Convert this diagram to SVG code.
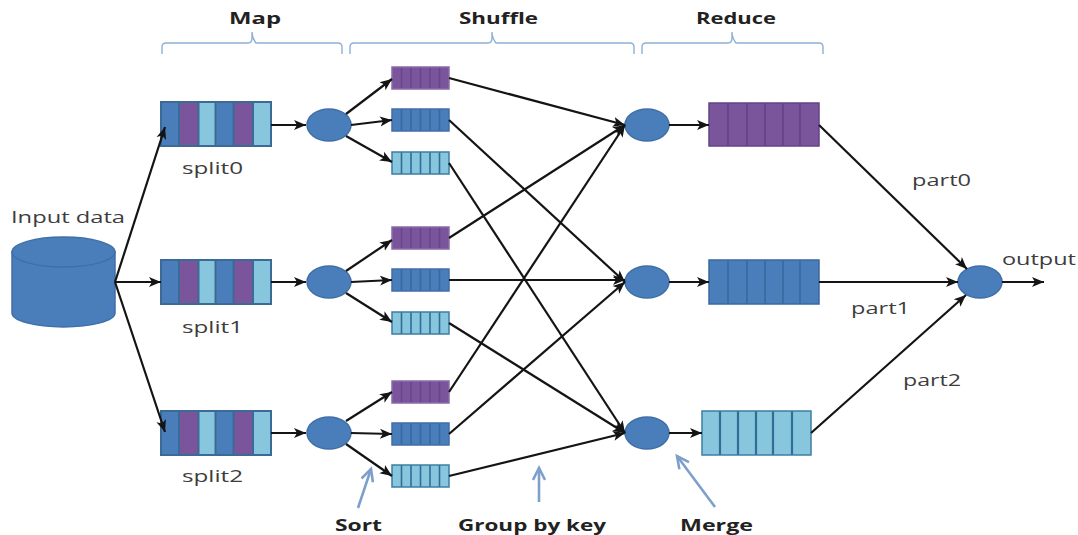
<svg xmlns="http://www.w3.org/2000/svg" width="1078" height="535" viewBox="0 0 1078 535">
<style>
text{font-family:"Open Sans","Liberation Sans",sans-serif;fill:#3d3d3d;font-size:16px}
.h{font-weight:700;fill:#222;font-size:16.5px}
.n{fill:#4a7ebb;stroke:#3f6fa8;stroke-width:1.5}
.br{fill:none;stroke:#8fb0d6;stroke-width:1.4}
.c{fill:none;stroke:#141414;stroke-width:2.2;marker-end:url(#a)}
.s{fill:none;stroke:#7f9fcb;stroke-width:2.6;marker-end:url(#b)}
.dv{stroke-width:1.6;fill:none}
.bl{fill:#4a7ebb}.pu{fill:#7b559c}.li{fill:#88c6de}
.o{fill:none;stroke:#3c6a96;stroke-width:2}
</style>
<defs>
<marker id="a" markerUnits="userSpaceOnUse" markerWidth="14" markerHeight="12" refX="12" refY="6" orient="auto"><path d="M0 1 L12 6 L0 11 L3 6Z" fill="#141414"/></marker>
<marker id="b" markerUnits="userSpaceOnUse" markerWidth="16" markerHeight="14" refX="13" refY="7" orient="auto"><path d="M1 1 L13 7 L1 13" fill="none" stroke="#7f9fcb" stroke-width="2.6"/></marker>
<g id="sm-p"><rect width="57" height="22" class="pu"/><path d="M9.5 0V22M19 0V22M28.500 0V22M38 0V22M47.500 0V22" class="dv" stroke="#66478c"/><rect width="57" height="22" fill="none" stroke="#8a6aa8" stroke-width="1.500"/></g>
<g id="sm-b"><rect width="57" height="22" class="bl"/><path d="M9.5 0V22M19 0V22M28.500 0V22M38 0V22M47.500 0V22" class="dv" stroke="#38689f"/><rect width="57" height="22" fill="none" stroke="#3f6fa8" stroke-width="1.500"/></g>
<g id="sm-l"><rect width="57" height="22" class="li"/><path d="M9.5 0V22M19 0V22M28.500 0V22M38 0V22M47.500 0V22" class="dv" stroke="#2f6f96"/><rect width="57" height="22" fill="none" stroke="#3c7da3" stroke-width="1.500"/></g>
<g id="split"><rect x="0" width="18" height="44" class="bl"/><rect x="18" width="19.500" height="44" class="pu"/><rect x="37.500" width="17" height="44" class="li"/><rect x="54.500" width="18" height="44" class="bl"/><rect x="72.500" width="19.500" height="44" class="pu"/><rect x="92" width="18" height="44" class="li"/><path d="M18 0V44M37.500 0V44M54.500 0V44M72.500 0V44M92 0V44" class="o"/><rect width="110" height="44" class="o"/></g>
</defs>

<g id="brackets">
<path class="br" d="M162 54V47Q162 43 166 43H248Q252 43 252 38V32Q252 38 256 43H338Q342 43 342 47V54"/>
<path class="br" d="M350 54V47Q350 43 354 43H488Q492 43 492 38V32Q492 38 496 43H630Q634 43 634 47V54"/>
<path class="br" d="M642 54V47Q642 43 646 43H728Q732 43 732 38V32Q732 38 736 43H819Q823 43 823 47V54"/>
</g>

<g id="input-data">
<path class="n" d="M12 252V313A51.500 14 0 0 0 115 313V252Z"/>
<ellipse class="n" cx="63.500" cy="252" rx="51.500" ry="15"/>
<text x="11" y="223" textLength="114" lengthAdjust="spacingAndGlyphs">Input data</text>
</g>

<g id="split0"><use href="#split" x="161" y="102"/><text x="182" y="174" textLength="61" lengthAdjust="spacingAndGlyphs">split0</text></g>
<g id="split1"><use href="#split" x="161" y="260"/><text x="182" y="333" textLength="61" lengthAdjust="spacingAndGlyphs">split1</text></g>
<g id="split2"><use href="#split" x="161" y="411"/><text x="182" y="482" textLength="61" lengthAdjust="spacingAndGlyphs">split2</text></g>

<g id="map0"><ellipse class="n" cx="329" cy="125" rx="22" ry="16"/></g>
<g id="map1"><ellipse class="n" cx="329" cy="282" rx="22" ry="16"/></g>
<g id="map2"><ellipse class="n" cx="329" cy="433" rx="22" ry="16"/></g>

<g id="q00"><use href="#sm-p" x="392" y="67"/></g>
<g id="q01"><use href="#sm-b" x="392" y="109"/></g>
<g id="q02"><use href="#sm-l" x="392" y="152"/></g>
<g id="q10"><use href="#sm-p" x="392" y="227"/></g>
<g id="q11"><use href="#sm-b" x="392" y="269"/></g>
<g id="q12"><use href="#sm-l" x="392" y="312"/></g>
<g id="q20"><use href="#sm-p" x="392" y="381"/></g>
<g id="q21"><use href="#sm-b" x="392" y="423"/></g>
<g id="q22"><use href="#sm-l" x="392" y="465"/></g>

<g id="merge0"><ellipse class="n" cx="647" cy="125" rx="22" ry="16"/></g>
<g id="merge1"><ellipse class="n" cx="647" cy="282" rx="22" ry="16"/></g>
<g id="merge2"><ellipse class="n" cx="647" cy="433" rx="22" ry="16"/></g>

<g id="reduce0"><rect x="709" y="103" width="110" height="43" class="pu"/><path d="M728 103V146M747 103V146M765 103V146M783 103V146M800 103V146" class="dv" stroke="#634387"/><rect x="709" y="103" width="110" height="43" fill="none" stroke="#634387" stroke-width="1.500"/></g>
<g id="reduce1"><rect x="709" y="260" width="110" height="44" class="bl"/><path d="M728 260V304M747 260V304M765 260V304M783 260V304M800 260V304" class="dv" stroke="#38689f"/><rect x="709" y="260" width="110" height="44" fill="none" stroke="#38689f" stroke-width="1.500"/></g>
<g id="reduce2"><rect x="702" y="411" width="109" height="44" class="li"/><path d="M720 411V455M738 411V455M756 411V455M773 411V455M792 411V455" class="dv" stroke="#2f6f96" style="stroke-width:2.2"/><rect x="702" y="411" width="109" height="44" fill="none" stroke="#3c7da3" stroke-width="1.500"/></g>

<g id="output"><ellipse class="n" cx="980" cy="282" rx="22" ry="16"/></g>

<g id="connectors">
<path class="c" d="M115 282L165 127"/><path class="c" d="M115 282H161"/><path class="c" d="M115 282L165 432"/>
<path class="c" d="M271 125H306"/><path class="c" d="M271 282H306"/><path class="c" d="M271 433H306"/>
<path class="c" d="M346 114L392 79"/><path class="c" d="M351 125L392 120"/><path class="c" d="M346 136L392 162"/>
<path class="c" d="M346 271L392 240"/><path class="c" d="M351 282L392 280"/><path class="c" d="M346 293L392 322"/>
<path class="c" d="M346 421L392 392"/><path class="c" d="M351 433L392 434"/><path class="c" d="M346 444L392 476"/>
<path class="c" d="M449 78L625 125"/><path class="c" d="M449 238L625 125"/><path class="c" d="M449 392L625 125"/>
<path class="c" d="M449 120L625 282"/><path class="c" d="M449 280H625"/><path class="c" d="M449 434L625 282"/>
<path class="c" d="M449 163L625 433"/><path class="c" d="M449 323L625 433"/><path class="c" d="M449 476L625 433"/>
<path class="c" d="M669 125H709"/><path class="c" d="M669 282H709"/><path class="c" d="M669 433H702"/>
<path class="c" d="M819 125L967 269"/><path class="c" d="M819 282H958"/><path class="c" d="M811 433L966 295"/>
<path class="c" d="M1002 282H1044"/>
<path class="s" d="M358 508L371 469"/><path class="s" d="M539 502V468"/><path class="s" d="M715 507L677 456"/>
</g>

<g id="labels">
<text class="h" x="229" y="24" textLength="52" lengthAdjust="spacingAndGlyphs">Map</text>
<text class="h" x="459" y="24" textLength="79" lengthAdjust="spacingAndGlyphs">Shuffle</text>
<text class="h" x="696" y="24" textLength="80" lengthAdjust="spacingAndGlyphs">Reduce</text>
<text class="h" x="335" y="531" textLength="47" lengthAdjust="spacingAndGlyphs">Sort</text>
<text class="h" x="458" y="531" textLength="148" lengthAdjust="spacingAndGlyphs">Group by key</text>
<text class="h" x="680" y="531" textLength="73" lengthAdjust="spacingAndGlyphs">Merge</text>
<text x="912" y="186" textLength="59" lengthAdjust="spacingAndGlyphs">part0</text>
<text x="851" y="314" textLength="59" lengthAdjust="spacingAndGlyphs">part1</text>
<text x="903" y="386" textLength="58" lengthAdjust="spacingAndGlyphs">part2</text>
<text x="1002" y="265" textLength="74" lengthAdjust="spacingAndGlyphs">output</text>
</g>
</svg>
